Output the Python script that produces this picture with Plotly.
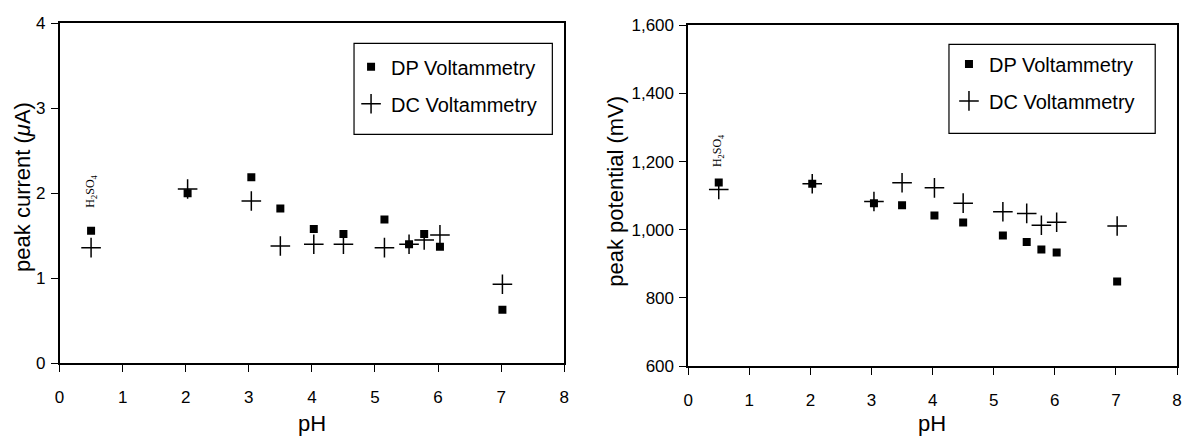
import plotly.graph_objects as go

# ---- data ----
ph = [0.5, 2.03, 3.04, 3.5, 4.03, 4.5, 5.15, 5.54, 5.78, 6.03, 7.02]
dp_current = [1.56, 2.00, 2.19, 1.82, 1.58, 1.52, 1.69, 1.40, 1.52, 1.37, 0.63]
dc_current = [1.36, 2.05, 1.91, 1.38, 1.40, 1.40, 1.36, 1.40, 1.45, 1.51, 0.93]
dp_potential = [1139, 1135, 1078, 1072, 1042, 1021, 983, 964, 942, 933, 848]
dc_potential = [1118, 1135, 1083, 1138, 1123, 1078, 1053, 1048, 1013, 1022, 1011]

series_names = ["DP Voltammetry", "DC Voltammetry"]
x_ticks = [0, 1, 2, 3, 4, 5, 6, 7, 8]
y1_ticks = [0, 1, 2, 3, 4]
y2_ticks = [600, 800, 1000, 1200, 1400, 1600]
acid_label = "H<sub>2</sub>SO<sub>4</sub>"

W, H = 1186, 445
FONT = "Liberation Sans, Arial, sans-serif"
SERIF = "Liberation Serif, Times New Roman, serif"

def px(v):
    return v / W

def py(v):
    return 1 - v / H

sq = dict(symbol="square", size=8, color="black")
cr = dict(symbol="cross-thin", size=14, color="black", line=dict(width=1.5, color="black"))

fig = go.Figure()
fig.add_trace(go.Scatter(x=ph, y=dp_current, mode="markers", marker=sq, name=series_names[0],
                         xaxis="x", yaxis="y", legend="legend", legendgroup="a"))
fig.add_trace(go.Scatter(x=ph, y=dc_current, mode="markers", marker=cr, name=series_names[1],
                         xaxis="x", yaxis="y", legend="legend", legendgroup="b"))
fig.add_trace(go.Scatter(x=ph, y=dp_potential, mode="markers", marker=sq, name=series_names[0],
                         xaxis="x2", yaxis="y2", legend="legend2", legendgroup="c"))
fig.add_trace(go.Scatter(x=ph, y=dc_potential, mode="markers", marker=cr, name=series_names[1],
                         xaxis="x2", yaxis="y2", legend="legend2", legendgroup="d"))

axis_common = dict(showline=True, linecolor="black", linewidth=1.5, mirror=True,
                   ticks="outside", ticklen=7, tickwidth=1.2, tickcolor="black",
                   showgrid=False, zeroline=False,
                   tickfont=dict(family=FONT, size=17, color="black"))

legend_common = dict(bgcolor="rgba(0,0,0,0)", borderwidth=0, traceorder="grouped",
                     tracegroupgap=8, xanchor="left", yanchor="top",
                     font=dict(family=FONT, size=20, color="black"))

fig.update_layout(
    width=W, height=H, margin=dict(l=0, r=0, t=0, b=0),
    paper_bgcolor="white", plot_bgcolor="white", showlegend=True,
    xaxis=dict(domain=[px(55), px(564)], range=[0, 8], tickvals=x_ticks, anchor="y",
               ticklabelstandoff=11, **axis_common),
    yaxis=dict(domain=[py(370), py(15)], range=[0, 4], tickvals=y1_ticks, anchor="x",
               ticklabelstandoff=2, **axis_common),
    xaxis2=dict(domain=[px(689), px(1182)], range=[0, 8], tickvals=x_ticks, anchor="y2",
                ticklabelstandoff=11, **axis_common),
    yaxis2=dict(domain=[py(373), py(17)], range=[600, 1600], tickvals=y2_ticks, tickformat=",",
                anchor="x2", ticklabelstandoff=2, **axis_common),
    legend=dict(x=px(349), y=py(40), **legend_common),
    legend2=dict(x=px(952), y=py(37), **legend_common),
    shapes=[
        dict(type="rect", xref="paper", yref="paper", x0=px(352), x1=px(552), y0=py(131), y1=py(36),
             line=dict(color="black", width=1.2)),
        dict(type="rect", xref="paper", yref="paper", x0=px(952), x1=px(1160), y0=py(130), y1=py(37),
             line=dict(color="black", width=1.2)),
    ],
    annotations=[
        dict(text="peak current (<i>μ</i>A)", xref="paper", yref="paper", x=px(17), y=py(186),
             textangle=-90, showarrow=False, xanchor="center", yanchor="middle",
             font=dict(family=FONT, size=22, color="black")),
        dict(text="peak potential (mV)", xref="paper", yref="paper", x=px(616), y=py(190),
             textangle=-90, showarrow=False, xanchor="center", yanchor="middle",
             font=dict(family=FONT, size=22, color="black")),
        dict(text="pH", xref="paper", yref="paper", x=px(309.5), y=py(433),
             showarrow=False, xanchor="center", yanchor="middle",
             font=dict(family=FONT, size=22, color="black")),
        dict(text="pH", xref="paper", yref="paper", x=px(935), y=py(433),
             showarrow=False, xanchor="center", yanchor="middle",
             font=dict(family=FONT, size=22, color="black")),
        dict(text=acid_label, xref="x", yref="y", x=0.5, y=2.02, textangle=-90, showarrow=False,
             xanchor="center", yanchor="middle",
             font=dict(family=SERIF, size=12, color="black")),
        dict(text=acid_label, xref="x2", yref="y2", x=0.5, y=1233, textangle=-90, showarrow=False,
             xanchor="center", yanchor="middle",
             font=dict(family=SERIF, size=12, color="black")),
    ],
)

fig.write_html("out.html")
